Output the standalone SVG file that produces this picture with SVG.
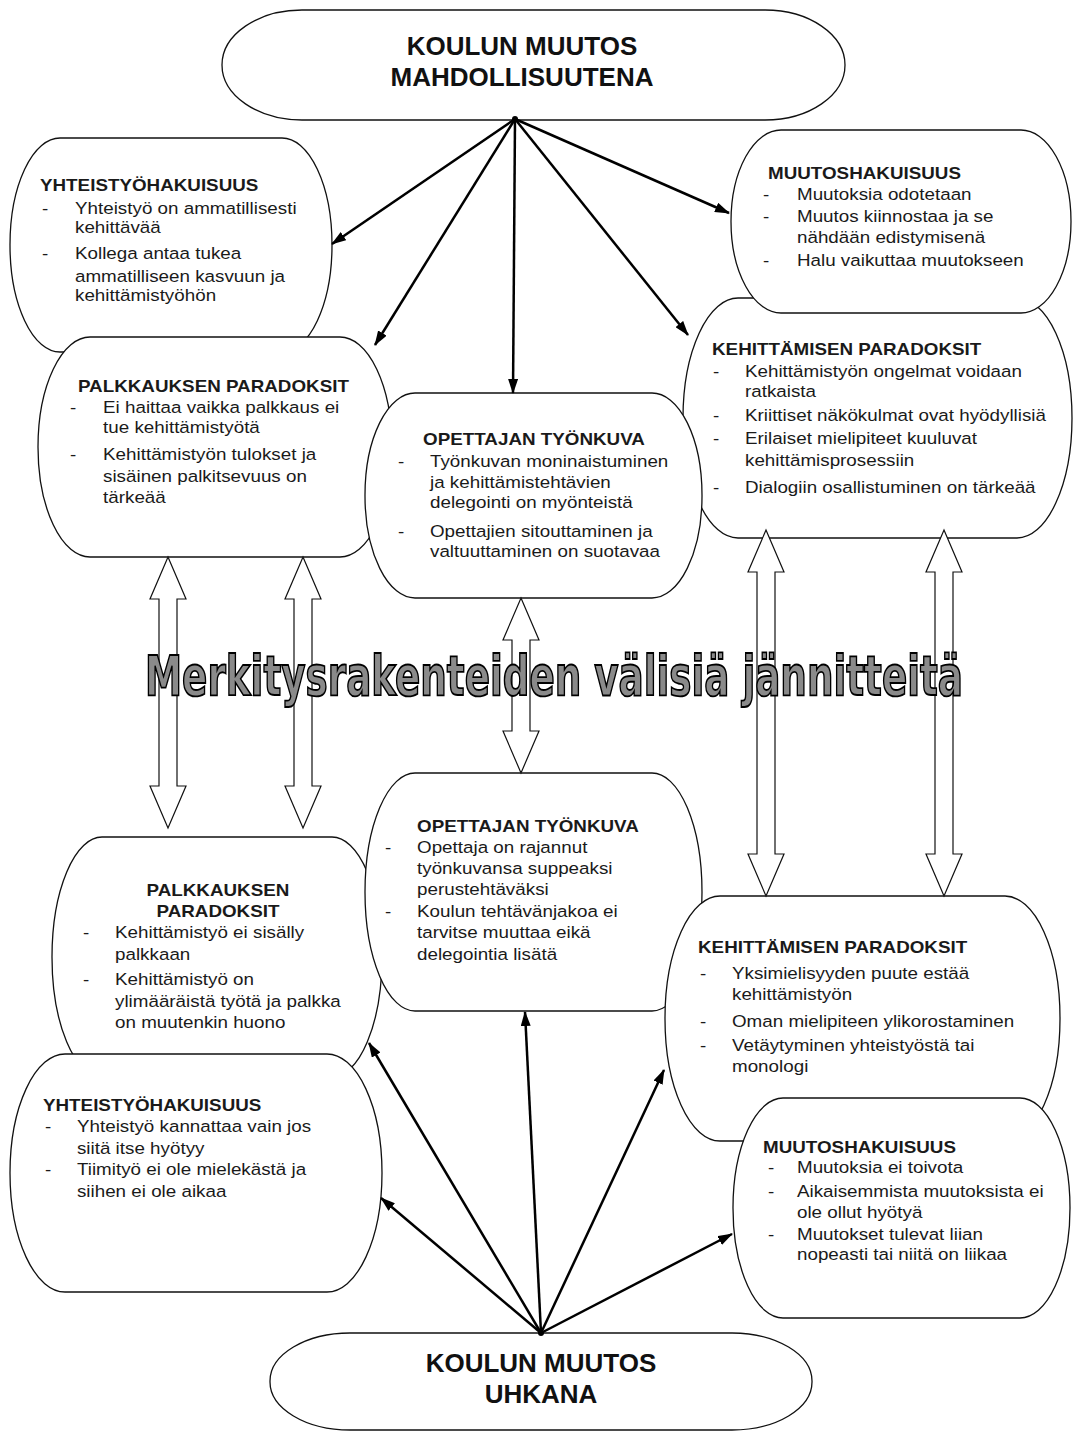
<svg xmlns="http://www.w3.org/2000/svg" width="1074" height="1432" viewBox="0 0 1074 1432">
<style>
.box{fill:#fff;stroke:#111;stroke-width:1.3}
.t{font-family:"Liberation Sans",Arial,sans-serif;font-size:16.5px;fill:#1a1a1a}
.h{font-weight:bold}
.ttl{font-family:"Liberation Sans",Arial,sans-serif;font-size:26px;font-weight:bold;fill:#111;text-anchor:middle}
.con{stroke:#000;stroke-width:2.5;fill:none}
.dbl{fill:#fff;stroke:#111;stroke-width:1.2}
.big{font-family:"DejaVu Sans","Liberation Sans Narrow",sans-serif;font-stretch:condensed;font-weight:bold;font-size:56px;fill:#8a8a8a;stroke:#000;stroke-width:1.8}
</style>
<defs>
<marker id="ah" markerWidth="15" markerHeight="10" refX="14" refY="5" orient="auto" markerUnits="userSpaceOnUse"><path d="M0,0 L15,5 L0,10 z" fill="#000"/></marker>
</defs>
<rect width="1074" height="1432" fill="#fff"/>

<g id="top-title">
<rect class="box" x="222" y="10" width="623" height="110" rx="80" ry="55"/>
<text class="ttl" x="522" y="55">KOULUN MUUTOS</text>
<text class="ttl" x="522" y="86">MAHDOLLISUUTENA</text>
</g>

<g id="bottom-title">
<rect class="box" x="270" y="1333" width="542" height="97" rx="80" ry="48"/>
<text class="ttl" x="541" y="1372">KOULUN MUUTOS</text>
<text class="ttl" x="541" y="1403">UHKANA</text>
</g>

<g id="yhteistyo-top">
<rect class="box" x="10" y="138" width="322" height="214" rx="50" ry="107"/>
<g class="t" transform="scale(1.14 1)">
<text class="h" x="35.1" y="191">YHTEISTYÖHAKUISUUS</text>
<text x="36.8" y="214">-</text><text x="65.8" y="214">Yhteistyö on ammatillisesti</text>
<text x="65.8" y="233">kehittävää</text>
<text x="36.8" y="259">-</text><text x="65.8" y="259">Kollega antaa tukea</text>
<text x="65.8" y="282">ammatilliseen kasvuun ja</text>
<text x="65.8" y="301">kehittämistyöhön</text>
</g>
</g>

<g id="palkkaus-top">
<rect class="box" x="38" y="337" width="354" height="220" rx="52" ry="110"/>
<g class="t" transform="scale(1.14 1)">
<text class="h" x="68.4" y="392">PALKKAUKSEN PARADOKSIT</text>
<text x="61.4" y="413">-</text><text x="90.4" y="413">Ei haittaa vaikka palkkaus ei</text>
<text x="90.4" y="433">tue kehittämistyötä</text>
<text x="61.4" y="460">-</text><text x="90.4" y="460">Kehittämistyön tulokset ja</text>
<text x="90.4" y="482">sisäinen palkitsevuus on</text>
<text x="90.4" y="503">tärkeää</text>
</g>
</g>

<g id="kehittaminen-top">
<rect class="box" x="683" y="298" width="389" height="240" rx="55" ry="120"/>
<g class="t" transform="scale(1.14 1)">
<text class="h" x="624.6" y="355">KEHITTÄMISEN PARADOKSIT</text>
<text x="625.4" y="377">-</text><text x="653.5" y="377">Kehittämistyön ongelmat voidaan</text>
<text x="653.5" y="397">ratkaista</text>
<text x="625.4" y="421">-</text><text x="653.5" y="421">Kriittiset näkökulmat ovat hyödyllisiä</text>
<text x="625.4" y="444">-</text><text x="653.5" y="444">Erilaiset mielipiteet kuuluvat</text>
<text x="653.5" y="466">kehittämisprosessiin</text>
<text x="625.4" y="493">-</text><text x="653.5" y="493">Dialogiin osallistuminen on tärkeää</text>
</g>
</g>

<g id="muutos-top">
<rect class="box" x="731" y="130" width="340" height="183" rx="50" ry="92"/>
<g class="t" transform="scale(1.14 1)">
<text class="h" x="673.7" y="179">MUUTOSHAKUISUUS</text>
<text x="669.3" y="200">-</text><text x="699.1" y="200">Muutoksia odotetaan</text>
<text x="669.3" y="222">-</text><text x="699.1" y="222">Muutos kiinnostaa ja se</text>
<text x="699.1" y="243">nähdään edistymisenä</text>
<text x="669.3" y="266">-</text><text x="699.1" y="266">Halu vaikuttaa muutokseen</text>
</g>
</g>

<g id="opettaja-top">
<rect class="box" x="365" y="393" width="337" height="205" rx="50" ry="102"/>
<g class="t" transform="scale(1.14 1)">
<text class="h" x="371.1" y="445">OPETTAJAN TYÖNKUVA</text>
<text x="349.1" y="467">-</text><text x="377.2" y="467">Työnkuvan moninaistuminen</text>
<text x="377.2" y="488">ja kehittämistehtävien</text>
<text x="377.2" y="508">delegointi on myönteistä</text>
<text x="349.1" y="537">-</text><text x="377.2" y="537">Opettajien sitouttaminen ja</text>
<text x="377.2" y="557">valtuuttaminen on suotavaa</text>
</g>
</g>

<g id="palkkaus-bottom">
<rect class="box" x="52" y="837" width="330" height="240" rx="50" ry="120"/>
<g class="t" transform="scale(1.14 1)">
<text class="h" x="191.2" y="896" text-anchor="middle">PALKKAUKSEN</text>
<text class="h" x="191.2" y="917" text-anchor="middle">PARADOKSIT</text>
<text x="72.8" y="938">-</text><text x="100.9" y="938">Kehittämistyö ei sisälly</text>
<text x="100.9" y="960">palkkaan</text>
<text x="72.8" y="985">-</text><text x="100.9" y="985">Kehittämistyö on</text>
<text x="100.9" y="1007">ylimääräistä työtä ja palkka</text>
<text x="100.9" y="1028">on muutenkin huono</text>
</g>
</g>

<g id="opettaja-bottom">
<rect class="box" x="365" y="773" width="337" height="238" rx="50" ry="119"/>
<g class="t" transform="scale(1.14 1)">
<text class="h" x="365.8" y="832">OPETTAJAN TYÖNKUVA</text>
<text x="337.7" y="853">-</text><text x="365.8" y="853">Opettaja on rajannut</text>
<text x="365.8" y="874">työnkuvansa suppeaksi</text>
<text x="365.8" y="895">perustehtäväksi</text>
<text x="337.7" y="917">-</text><text x="365.8" y="917">Koulun tehtävänjakoa ei</text>
<text x="365.8" y="938">tarvitse muuttaa eikä</text>
<text x="365.8" y="960">delegointia lisätä</text>
</g>
</g>

<g id="kehittaminen-bottom">
<rect class="box" x="665" y="896" width="395" height="245" rx="55" ry="122"/>
<g class="t" transform="scale(1.14 1)">
<text class="h" x="612.3" y="953">KEHITTÄMISEN PARADOKSIT</text>
<text x="614" y="979">-</text><text x="642.1" y="979">Yksimielisyyden puute estää</text>
<text x="642.1" y="1000">kehittämistyön</text>
<text x="614" y="1027">-</text><text x="642.1" y="1027">Oman mielipiteen ylikorostaminen</text>
<text x="614" y="1051">-</text><text x="642.1" y="1051">Vetäytyminen yhteistyöstä tai</text>
<text x="642.1" y="1072">monologi</text>
</g>
</g>

<g id="yhteistyo-bottom">
<rect class="box" x="10" y="1054" width="372" height="238" rx="55" ry="119"/>
<g class="t" transform="scale(1.14 1)">
<text class="h" x="37.7" y="1111">YHTEISTYÖHAKUISUUS</text>
<text x="39.5" y="1132">-</text><text x="67.5" y="1132">Yhteistyö kannattaa vain jos</text>
<text x="67.5" y="1154">siitä itse hyötyy</text>
<text x="39.5" y="1175">-</text><text x="67.5" y="1175">Tiimityö ei ole mielekästä ja</text>
<text x="67.5" y="1197">siihen ei ole aikaa</text>
</g>
</g>

<g id="muutos-bottom">
<rect class="box" x="733" y="1098" width="337" height="220" rx="50" ry="110"/>
<g class="t" transform="scale(1.14 1)">
<text class="h" x="669.3" y="1153">MUUTOSHAKUISUUS</text>
<text x="673.7" y="1173">-</text><text x="699.1" y="1173">Muutoksia ei toivota</text>
<text x="673.7" y="1197">-</text><text x="699.1" y="1197">Aikaisemmista muutoksista ei</text>
<text x="699.1" y="1218">ole ollut hyötyä</text>
<text x="673.7" y="1240">-</text><text x="699.1" y="1240">Muutokset tulevat liian</text>
<text x="699.1" y="1260">nopeasti tai niitä on liikaa</text>
</g>
</g>

<g id="connectors">
<path class="dbl" d="M168,557 L186,599 L177,599 L177,786 L186,786 L168,828 L150,786 L159,786 L159,599 L150,599 Z"/>
<path class="dbl" d="M303,557 L321,599 L312,599 L312,786 L321,786 L303,828 L285,786 L294,786 L294,599 L285,599 Z"/>
<path class="dbl" d="M521,598 L539,640 L530,640 L530,731 L539,731 L521,773 L503,731 L512,731 L512,640 L503,640 Z"/>
<path class="dbl" d="M766,530 L784,572 L775,572 L775,854 L784,854 L766,896 L748,854 L757,854 L757,572 L748,572 Z"/>
<path class="dbl" d="M944,530 L962,572 L953,572 L953,854 L962,854 L944,896 L926,854 L935,854 L935,572 L926,572 Z"/>
<line class="con" x1="515" y1="119" x2="332" y2="244" marker-end="url(#ah)"/>
<line class="con" x1="515" y1="119" x2="375" y2="345" marker-end="url(#ah)"/>
<line class="con" x1="515" y1="119" x2="513" y2="393" marker-end="url(#ah)"/>
<line class="con" x1="515" y1="119" x2="688" y2="335" marker-end="url(#ah)"/>
<line class="con" x1="515" y1="119" x2="729" y2="213" marker-end="url(#ah)"/>
<line class="con" x1="541" y1="1333" x2="381" y2="1198" marker-end="url(#ah)"/>
<line class="con" x1="541" y1="1333" x2="369" y2="1043" marker-end="url(#ah)"/>
<line class="con" x1="541" y1="1333" x2="525" y2="1012" marker-end="url(#ah)"/>
<line class="con" x1="541" y1="1333" x2="664" y2="1070" marker-end="url(#ah)"/>
<line class="con" x1="541" y1="1333" x2="732" y2="1234" marker-end="url(#ah)"/>
<circle cx="515" cy="119" r="3" fill="#000"/>
<circle cx="541" cy="1333" r="3" fill="#000"/>
</g>

<text class="big" x="145" y="695" textLength="818" lengthAdjust="spacingAndGlyphs">Merkitysrakenteiden välisiä jännitteitä</text>
</svg>
